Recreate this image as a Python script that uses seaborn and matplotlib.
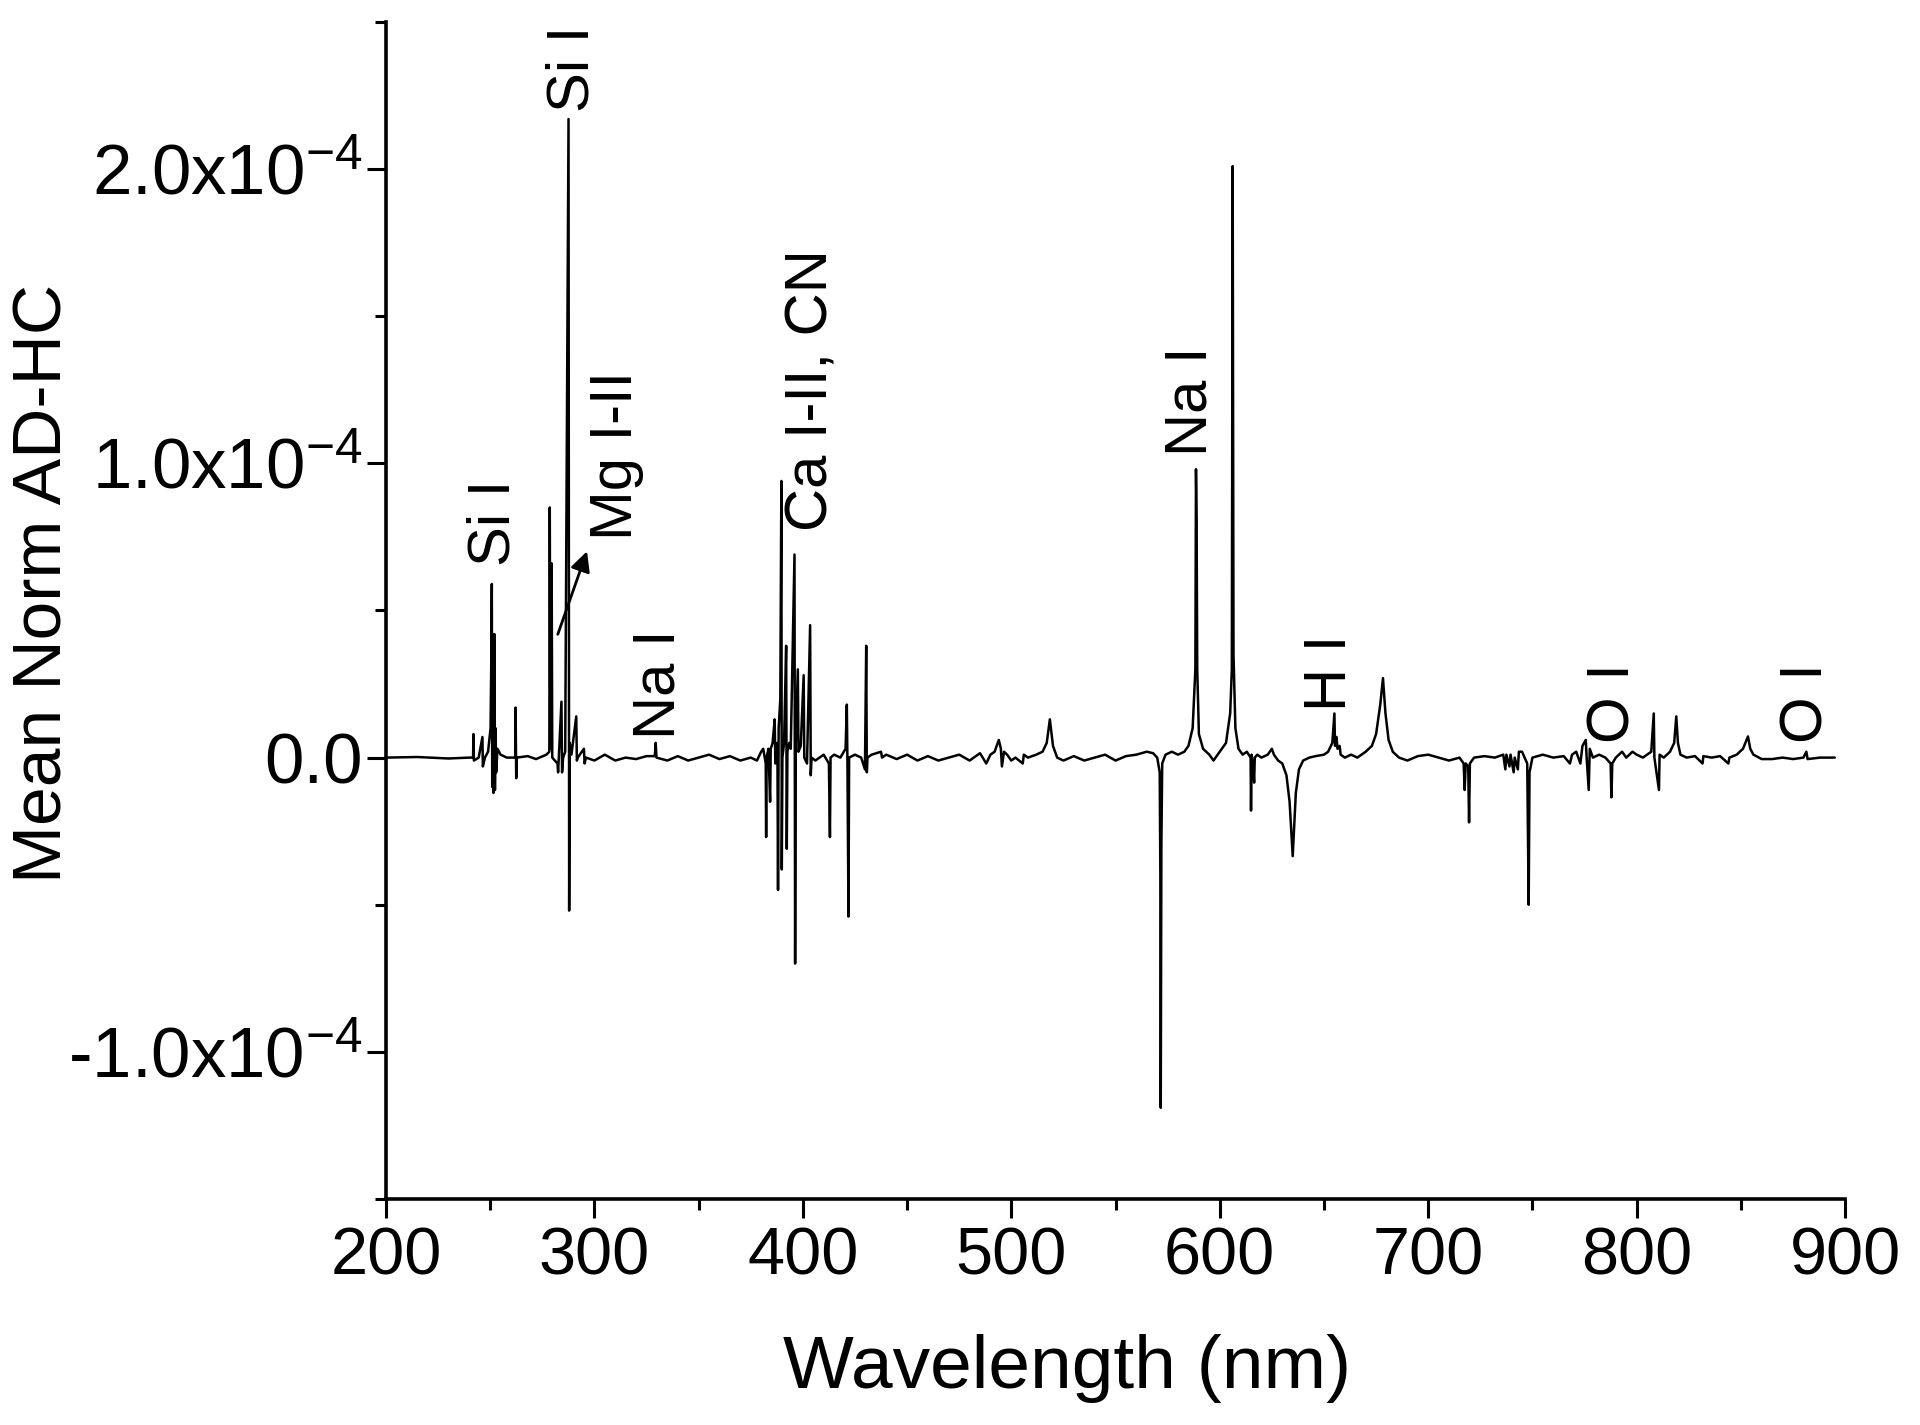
import numpy as np
import matplotlib
matplotlib.use("Agg")
import matplotlib.pyplot as plt
import seaborn as sns

# spectrum vertices (signal in units of 1e-4)
wavelength = [
    200, 215, 230, 240, 241.8, 242.0, 242.2, 244.5, 246.3, 246.5, 247.5, 249.0,
    250.2, 250.5, 250.8, 251.0, 251.3, 251.6, 252.0, 252.3, 252.6, 252.9, 253.5,
    255, 258, 262.0, 262.2, 262.5, 262.8, 268, 272, 277, 278.4, 278.6, 278.9,
    279.3, 279.5, 279.8, 282.3, 282.6, 284.2, 284.5, 285, 286, 287.6, 287.9,
    288.2, 289, 291.3, 291.6, 292, 295, 295.3, 296, 300, 305, 310, 315, 320,
    325, 329.0, 329.4, 329.8, 335, 340, 345, 350, 355, 360, 365, 370, 375, 378,
    380, 381, 382.2, 382.4, 382.6, 383.5, 384.3, 384.6, 385.5, 386.5, 386.8,
    387.8, 388.1, 388.4, 389.2, 389.7, 389.9, 390.2, 391.0, 392.0, 392.3, 392.6,
    393.5, 394.2, 396.0, 396.3, 396.6, 397.6, 397.9, 399, 400.4, 400.7, 402,
    403.5, 403.8, 404.2, 406, 408, 410, 412.5, 413.0, 413.3, 415, 418, 420.5,
    421.1, 421.4, 421.9, 422.2, 425, 428, 429.8, 430.4, 430.7, 431, 433, 437.5,
    438, 440, 445, 450, 455, 460, 465, 470, 475, 480, 485, 488, 490, 492, 494,
    495, 495.5, 496.5, 498, 500, 502, 505.5, 506, 508, 512, 515, 517, 518.5,
    520, 522, 525, 530, 535, 540, 545, 550, 555, 560, 565, 568, 570, 571.2,
    571.5, 571.7, 572.0, 572.4, 574, 577, 580, 583, 585, 587, 588.3, 588.6,
    588.9, 589.2, 590, 592, 595, 597, 600, 603, 605, 605.8, 606.2, 606.6, 607.5,
    609, 611, 613, 614.8, 615.0, 615.3, 616.2, 616.5, 616.8, 618, 620, 623, 625,
    626, 628, 630, 632, 633.5, 635.0, 636.5, 638, 640, 643, 646, 650, 652, 654,
    655.0, 655.3, 656, 656.5, 657.5, 658, 660, 663, 666, 670, 673, 675, 677,
    678.3, 679.5, 681, 683, 686, 690, 695, 700, 705, 710, 715, 717, 717.5, 718,
    719.2, 719.6, 720.0, 722, 727, 732, 736, 737, 737.5, 739, 739.5, 741, 741.5,
    743, 743.5, 745, 747.5, 748.2, 748.6, 750, 755, 760, 765, 768, 769, 771,
    773, 774, 775.6, 776, 777, 777.5, 779, 782, 785, 787.5, 787.9, 788.3, 790,
    793, 795, 798, 800, 803, 807, 808.2, 808.5, 810.7, 811, 813, 816, 818, 819,
    819.8, 821, 824, 828, 831.6, 832, 836, 840, 844, 844.5, 848, 851, 853.4,
    854.5, 856, 860, 865, 870, 875, 880, 881.4, 882, 888, 895,
]
signal = [
    0.0, 0.002, -0.003, 0.0, 0.0, 0.08, -0.01, 0.0, 0.07, -0.03, 0.0, 0.02,
    0.1, 0.3, 0.59, -0.1, 0.2, -0.12, 0.42, -0.11, 0.1, -0.05, 0.03,
    0.01, 0.0, 0.0, 0.17, -0.07, 0.0, 0.005, -0.005, 0.01, 0.02, 0.85, 0.03,
    0.05, 0.66, 0.0, -0.02, -0.05, 0.19, -0.05, 0.0, 0.02, 2.17, -0.52,
    0.05, 0.01, 0.14, -0.01, 0.0, 0.03, -0.02, 0.0, -0.01, 0.01, -0.01, 0.0, -0.005,
    0.005, 0.005, 0.05, 0.0, -0.01, 0.005, -0.01, 0.0, 0.01, -0.005, 0.005, -0.01, 0.0, -0.01,
    0.02, 0.03, -0.02, -0.27, 0.0, 0.03, -0.15, 0.03, 0.05, 0.13, -0.02,
    0.05, -0.45, 0.1, 0.2, 0.94, -0.38, 0.0, 0.05, 0.38, -0.31, 0.02,
    0.05, 0.03, 0.69, -0.7, 0.05, 0.30, 0.02, 0.04, 0.28, 0.0, -0.02,
    0.45, -0.06, 0.0, -0.01, 0.0, 0.01, -0.02, -0.27, 0.0, 0.01, 0.0, 0.03,
    0.18, -0.02, -0.54, 0.0, 0.01, 0.0, -0.04, 0.38, -0.05, 0.0, 0.01, 0.02,
    0.0, 0.01, -0.005, 0.01, -0.01, 0.005, -0.01, 0.0, 0.01, -0.01, 0.015, -0.02, 0.01, 0.02, 0.06,
    0.03, -0.03, 0.02, 0.01, -0.01, 0.0, -0.02, 0.01, 0.0, 0.01, 0.02, 0.05, 0.13,
    0.04, 0.0, -0.01, 0.005, -0.01, 0.0, 0.01, -0.01, 0.005, 0.01, 0.02, 0.015, 0.0, -0.05,
    -0.4, -1.19, -0.3, -0.02, 0.01, 0.02, 0.01, 0.02, 0.04, 0.1, 0.3, 0.98,
    0.8, 0.3, 0.08, 0.03, 0.01, -0.01, 0.02, 0.05, 0.15, 0.3, 2.01, 0.35, 0.1,
    0.03, 0.01, 0.02, 0.0, -0.18, 0.01, -0.05, -0.085, 0.0, 0.01, 0.0, 0.01, 0.03,
    0.01, -0.01, -0.02, -0.06, -0.15, -0.335, -0.12, -0.04, -0.01, 0.0, 0.005, 0.01, 0.02, 0.05,
    0.15, 0.04, 0.07, 0.03, 0.04, 0.01, 0.0, 0.01, 0.0, 0.02, 0.04, 0.08, 0.18,
    0.27, 0.15, 0.06, 0.02, 0.0, -0.01, 0.005, 0.01, 0.0, -0.01, 0.0, -0.02, -0.11, -0.02,
    -0.03, -0.22, -0.02, 0.0, 0.005, 0.0, 0.01, -0.04, 0.01, -0.03, 0.01, -0.05, 0.0,
    -0.04, 0.02, 0.02, -0.02, -0.5, -0.05, 0.0, 0.01, 0.0, 0.005, -0.02, 0.01, 0.02,
    -0.02, 0.04, 0.06, 0.0, -0.11, 0.03, 0.0, 0.01, 0.0, -0.02, -0.135, -0.02, 0.0,
    0.02, 0.0, 0.02, 0.01, 0.0, 0.02, 0.15, 0.0, -0.11, 0.01, 0.0, 0.02, 0.05, 0.14,
    0.05, 0.01, 0.0, 0.005, -0.02, 0.005, 0.0, 0.005, -0.02, 0.0, 0.01, 0.03, 0.072,
    0.03, 0.01, -0.005, -0.005, 0.0, -0.005, 0.0, 0.02, -0.005, 0.0, 0.0,
]

# line labels: text, wavelength, bottom of text (units of 1e-4)
label_text = ["Si I", "Si I", "Mg I-II", "Na I", "Ca I-II, CN", "Na I", "H I", "O I", "O I"]
label_x = [251.7, 289.8, 310.4, 330.9, 404.3, 586.4, 653.3, 789.0, 881.7]
label_y = [0.65, 2.195, 0.74, 0.062, 0.77, 1.025, 0.16, 0.05, 0.05]

ytick_vals = [-1.0, 0.0, 1.0, 2.0]
ytick_labels = ["-1.0x10$^{-4}$", "0.0", "1.0x10$^{-4}$", "2.0x10$^{-4}$"]
xtick_vals = [200, 300, 400, 500, 600, 700, 800, 900]

sns.set_style("ticks")
plt.rcParams["font.family"] = ["Liberation Sans", "DejaVu Sans"]
plt.rcParams["mathtext.fontset"] = "custom"
plt.rcParams["mathtext.rm"] = "Liberation Sans"
plt.rcParams["mathtext.default"] = "regular"
plt.rcParams["text.color"] = "black"
plt.rcParams["axes.labelcolor"] = "black"

fig = plt.figure(figsize=(19.2, 14.25), dpi=100)
ax = fig.add_axes([0.201, 0.1586, 0.76, 0.826])

scale = 1e-4
sig = np.asarray(signal) * scale
sns.lineplot(x=wavelength, y=sig, ax=ax, color="black", linewidth=1.8,
             sort=False, estimator=None)

for t, x, y in zip(label_text, label_x, label_y):
    ax.text(x, y * scale, t, rotation=90, ha="center", va="bottom",
            fontsize=43, color="black")

ax.annotate("", xy=(296.9, 0.71 * scale), xytext=(282.0, 0.41 * scale),
            arrowprops=dict(arrowstyle="-|>", color="black", lw=2,
                            mutation_scale=30))

ax.set_xlim(200, 900)
ax.set_ylim(-1.5 * scale, 2.5 * scale)
ax.set_xticks(xtick_vals)
ax.set_xticks(np.arange(250, 900, 100), minor=True)
ax.set_yticks([v * scale for v in ytick_vals])
ax.set_yticklabels(ytick_labels)
ax.set_yticks([v * scale for v in (-1.5, -0.5, 0.5, 1.5, 2.5)], minor=True)

ax.tick_params(axis="both", which="major", direction="out", length=14, width=2.2,
               color="black", labelcolor="black")
ax.tick_params(axis="x", which="major", labelsize=48, pad=6)
ax.tick_params(axis="y", which="major", labelsize=51, pad=3)
ax.tick_params(axis="both", which="minor", direction="out", length=8, width=2.2,
               color="black")

sns.despine(ax=ax)
for side in ("left", "bottom"):
    ax.spines[side].set_linewidth(2.6)
    ax.spines[side].set_color("black")

ax.set_xlabel("Wavelength (nm)", fontsize=54)
ax.set_ylabel("Mean Norm AD-HC", fontsize=50)
ax.xaxis.set_label_coords(0.467, -0.115)
ax.yaxis.set_label_coords(-0.213, 0.523)

fig.savefig("out.png", dpi=100, facecolor="white")
